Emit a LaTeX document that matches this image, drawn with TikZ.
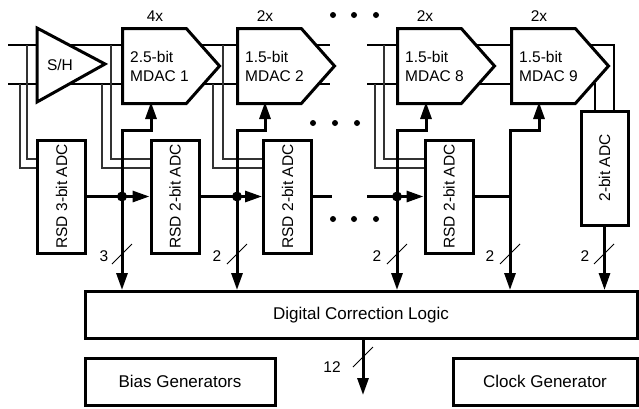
\documentclass[tikz,border=0pt]{standalone}
\usepackage{fontspec}
\setmainfont{Liberation Sans}
\usetikzlibrary{arrows.meta}
\usetikzlibrary{shapes.symbols}
\usetikzlibrary{backgrounds}

\newcommand{\lblfont}{\fontsize{15.5}{19}\selectfont}
\newcommand{\boxfont}{\fontsize{17}{20}\selectfont}

\begin{document}
\begin{tikzpicture}[x=1pt,y=-1pt,
  every node/.style={font=\lblfont,inner sep=0pt},
  blk/.style={draw,line width=3pt,fill=white},
  mdac/.style={blk,signal,signal to=east,signal pointer angle=97,minimum width=97pt,minimum height=75pt,anchor=north west},
  adc/.style={blk,minimum width=48pt,minimum height=113pt},
  gen/.style={blk,minimum height=47pt,font=\boxfont},
  wire/.style={line width=2pt},
  tap/.style={line width=1.1pt,black!80},
  bus/.style={line width=3pt},
  tip/.style={-{Triangle[length=17pt,width=11pt]}},
  bothtips/.style={{Triangle[length=17pt,width=11pt]}-{Triangle[length=17pt,width=11pt]}},
  slash/.style={line width=1pt},
  jdot/.style={circle,fill,minimum size=10pt},
  edot/.style={circle,fill,minimum size=6pt}]
  \useasboundingbox (0,0) rectangle (639,408);

  % sample and hold, then the pipeline stages
  \draw[blk] (37,28) -- (105,64) -- (37,102) -- cycle;
  \node (sh) at (60,65) {S/H};
  \node[mdac] (m1) at (121,27) {};
  \node[mdac] (m2) at (236,27) {};
  \node[mdac] (m8) at (396,27) {};
  \node[mdac] (m9) at (510,27) {};
  \node[align=left,anchor=west] (t1) at (130,66) {2.5-bit\\MDAC 1};
  \node[align=left,anchor=west] (t2) at (245,66) {1.5-bit\\MDAC 2};
  \node[align=left,anchor=west] (t8) at (405,66) {1.5-bit\\MDAC 8};
  \node[align=left,anchor=west] (t9) at (519,66) {1.5-bit\\MDAC 9};
  \node (g1) at (155,16) {4x};
  \node (g2) at (265,16) {2x};
  \node (g8) at (425,16) {2x};
  \node (g9) at (539,16) {2x};

  % sub-ADCs
  \node[adc] (a0) at (61.5,196.5) {\rotatebox{90}{RSD 3-bit ADC}};
  \node[adc] (a1) at (175,196.5) {\rotatebox{90}{RSD 2-bit ADC}};
  \node[adc] (a2) at (287.5,196.5) {\rotatebox{90}{RSD 2-bit ADC}};
  \node[adc] (a8) at (449,196.5) {\rotatebox{90}{RSD 2-bit ADC}};
  \node[adc,minimum width=47pt,minimum height=114pt] (a9) at (604.5,168) {\rotatebox{90}{2-bit ADC}};

  \node[gen,minimum width=552pt] (dcl) at (361,315) {Digital Correction Logic};
  \node[gen,minimum width=190pt] (bias) at (180,381.5) {Bias Generators};
  \node[gen,minimum width=184pt] (clk) at (545,381.5) {Clock Generator};

  \coordinate (in1) at (8,45);
  \coordinate (in2) at (8,84);
  \coordinate (e1) at (330,45);
  \coordinate (e2) at (330,84);
  \coordinate (s1) at (367,45);
  \coordinate (s2) at (367,84);
  \coordinate (j1) at (122,196.5);
  \coordinate (j2) at (237,196.5);
  \coordinate (j8) at (397,196.5);
  \coordinate (j9) at (510,196.5);
  \coordinate (c1) at (151,102);
  \coordinate (c2) at (265,102);
  \coordinate (c8) at (426,102);
  \coordinate (c9) at (539,102);
  \coordinate (f2) at (332,196.5);
  \coordinate (f8) at (367,196.5);
  \coordinate (out) at (363,395);

  % differential signal path and taps
  \begin{scope}[on background layer]
    \draw[wire] (in1) -- (e1);
    \draw[wire] (in2) -- (e2);
    \draw[wire] (s1) -| ([xshift=9.5pt]a9.north);
    \draw[wire] (s2) -| ([xshift=-9.5pt]a9.north);
    \draw[tap] (27,45) |- (a0.west |- 0,159);
    \draw[tap] (20,84) |- (a0.west |- 0,168);
    \draw[tap] (111,45) |- (a1.west |- 0,159);
    \draw[tap] (102,84) |- (a1.west |- 0,168);
    \draw[tap] (223,45) |- (a2.west |- 0,159);
    \draw[tap] (213,84) |- (a2.west |- 0,168);
    \draw[tap] (384,45) |- (a8.west |- 0,159);
    \draw[tap] (375,84) |- (a8.west |- 0,168);
  \end{scope}

  % digital outputs
  \draw[bus] (a0.east) -- (j1);
  \draw[bus,tip] (j1) -- (a1.west);
  \draw[bus,bothtips] (j1 |- dcl.north) -- (j1 |- 0,130) -| (c1);
  \draw[bus] (a1.east) -- (j2);
  \draw[bus,tip] (j2) -- (a2.west);
  \draw[bus,bothtips] (j2 |- dcl.north) -- (j2 |- 0,130) -| (c2);
  \draw[bus] (a2.east) -- (f2);
  \draw[bus] (f8) -- (j8);
  \draw[bus,tip] (j8) -- (a8.west);
  \draw[bus,bothtips] (j8 |- dcl.north) -- (j8 |- 0,130) -| (c8);
  \draw[bus] (a8.east) -- (j9);
  \draw[bus,bothtips] (j9 |- dcl.north) -- (j9 |- 0,130) -| (c9);
  \draw[bus,tip] (a9.south) -- (a9.south |- dcl.north);
  \draw[bus,tip] (dcl.south -| out) -- (out);
  \node[jdot] (d1) at (j1) {};
  \node[jdot] (d2) at (j2) {};
  \node[jdot] (d8) at (j8) {};

  % bus widths
  \draw[slash] (112,264) -- (132,244);
  \node (n1) at (104,256) {3};
  \draw[slash] (227,264) -- (247,244);
  \node (n2) at (217,256) {2};
  \draw[slash] (387,264) -- (407,244);
  \node (n8) at (377,256) {2};
  \draw[slash] (500,264) -- (520,244);
  \node (n9) at (490,256) {2};
  \draw[slash] (594,264) -- (614,244);
  \node (n10) at (585,256) {2};
  \draw[slash] (353,367) -- (373,347);
  \node (nout) at (332,367) {12};

  % skipped stages
  \foreach \i/\x in {1/333,2/354,3/376} \node[edot] (u\i) at (\x,15) {};
  \foreach \i/\x in {1/313,2/335,3/357} \node[edot] (v\i) at (\x,123) {};
  \foreach \i/\x in {1/333,2/354,3/376} \node[edot] (w\i) at (\x,219) {};
\end{tikzpicture}
\end{document}
